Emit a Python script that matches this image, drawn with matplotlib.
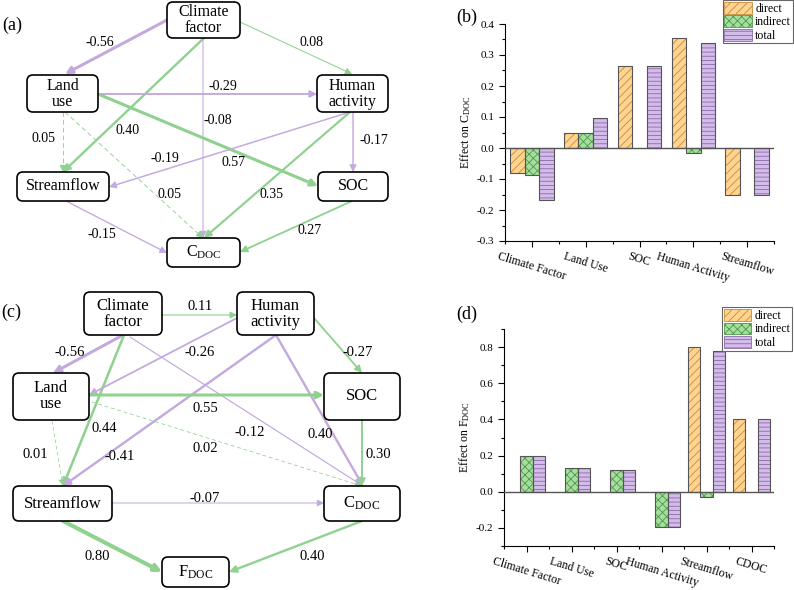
import matplotlib

matplotlib.use("Agg")
import matplotlib.pyplot as plt
import numpy as np
from matplotlib.patches import FancyBboxPatch, Patch
from matplotlib.ticker import FixedLocator, FormatStrFormatter, MultipleLocator

plt.rcParams["font.family"] = "serif"
plt.rcParams["font.serif"] = ["Liberation Serif", "DejaVu Serif"]
plt.rcParams["mathtext.fontset"] = "custom"
plt.rcParams["mathtext.rm"] = "Liberation Serif"
plt.rcParams["axes.unicode_minus"] = False
plt.rcParams["hatch.linewidth"] = 0.6

# ---------------- data ----------------
node_text = {
    "clim": "Climate\nfactor", "land": "Land\nuse", "human": "Human\nactivity",
    "flow": "Streamflow", "soc": "SOC",
    "cdoc": r"$\mathregular{C_{DOC}}$", "fdoc": r"$\mathregular{F_{DOC}}$",
}

# (a) path model for C_DOC
a_src = ["clim", "clim", "clim", "clim", "land", "land", "land", "land",
         "human", "human", "human", "flow", "soc"]
a_dst = ["land", "human", "flow", "cdoc", "human", "soc", "flow", "cdoc",
         "flow", "cdoc", "soc", "cdoc", "cdoc"]
a_coef = [-0.56, 0.08, 0.40, -0.08, -0.29, 0.57, 0.05, 0.05, -0.19, 0.35, -0.17, -0.15, 0.27]
a_green = [0, 1, 1, 0, 0, 1, 1, 1, 0, 1, 0, 0, 1]
a_sig = [1, 1, 1, 1, 1, 1, 0, 0, 1, 1, 1, 1, 1]

# (c) path model for F_DOC
c_src = ["clim", "clim", "clim", "clim", "human", "human", "human", "human",
         "land", "land", "land", "soc", "flow", "flow", "cdoc"]
c_dst = ["human", "land", "flow", "cdoc", "land", "flow", "cdoc", "soc",
         "soc", "flow", "cdoc", "cdoc", "cdoc", "fdoc", "fdoc"]
c_coef = [0.11, -0.56, 0.44, -0.12, -0.26, -0.41, 0.40, -0.27, 0.55, 0.01, 0.02, 0.30, -0.07, 0.80, 0.40]
c_green = [1, 0, 1, 0, 0, 0, 0, 1, 1, 1, 1, 1, 0, 1, 1]
c_sig = [1, 1, 1, 1, 1, 1, 1, 1, 1, 0, 0, 1, 1, 1, 1]

# (b) effects on C_DOC
b_cats = ["Climate Factor", "Land Use", "SOC", "Human Activity", "Streamflow"]
b_direct = [-0.080, 0.050, 0.266, 0.354, -0.153]
b_indirect = [-0.088, 0.047, 0.0, -0.016, 0.0]
b_total = [-0.167, 0.098, 0.266, 0.338, -0.153]

# (d) effects on F_DOC
d_cats = ["Climate Factor", "Land Use", "SOC", "Human Activity", "Streamflow", "CDOC"]
d_direct = [0.0, 0.0, 0.0, 0.0, 0.802, 0.405]
d_indirect = [0.196, 0.133, 0.118, -0.196, -0.030, 0.0]
d_total = [0.196, 0.133, 0.118, -0.196, 0.776, 0.405]

series_names = ["direct", "indirect", "total"]

# ---------------- layout (pixel space of the 794x590 figure) ----------------
a_box = {"clim": (167, 2, 240, 38), "land": (27, 75, 98, 112), "human": (317, 75, 388, 112),
         "flow": (17, 172, 109, 201), "soc": (318, 172, 388, 201), "cdoc": (167, 238, 240, 267)}
a_pts = [((167, 20), (65, 74)), ((240, 22), (352, 74)), ((204, 38), (63, 172)),
         ((203, 38), (203, 238)), ((98, 94), (317, 94)), ((98, 94), (318, 186)),
         ((63, 112), (63, 172)), ((65, 112), (203, 238)), ((350, 112), (109, 187)),
         ((350, 112), (204, 238)), ((353, 112), (353, 172)), ((66, 201), (167, 253)),
         ((352, 201), (240, 252))]
a_lab = [(100, 43), (311, 43), (128, 130), (218, 120), (223, 87), (234, 162), (43, 139),
         (170, 195), (165, 158), (272, 195), (374, 141), (102, 235), (310, 230)]

c_box = {"clim": (84, 292, 162, 335), "human": (237, 292, 314, 335), "land": (13, 373, 89, 420),
         "soc": (324, 373, 400, 420), "flow": (13, 486, 112, 521), "cdoc": (324, 486, 400, 521),
         "fdoc": (162, 557, 229, 587)}
c_pts = [((162, 315), (237, 315)), ((123, 335), (53, 373)), ((124, 335), (63, 486)),
         ((130, 337), (363, 486)), ((237, 318), (89, 395)), ((276, 335), (63, 486)),
         ((276, 335), (363, 486)), ((314, 318), (362, 373)), ((89, 395), (324, 395)),
         ((52, 421), (63, 486)), ((92, 402), (362, 486)), ((362, 420), (362, 486)),
         ((112, 503), (324, 503)), ((63, 521), (162, 572)), ((362, 521), (229, 572))]
c_lab = [(200, 307), (70, 352), (104, 429), (250, 432), (200, 352), (120, 457), (320, 435),
         (358, 352), (205, 408), (35, 454), (205, 448), (378, 455), (205, 498), (97, 557),
         (312, 557)]

GREEN = "#8fd18f"
PURPLE = "#c3a9dd"
fills = ["#ffd490", "#a6dea0", "#d3bce9"]
hatch_cols = ["#c88a3a", "#4e9a4a", "#8a6aa8"]
hatches = ["////", "xxxx", "----"]

fig = plt.figure(figsize=(7.94, 5.9), dpi=100)
ax = fig.add_axes([0, 0, 1, 1])
ax.set_xlim(0, 794)
ax.set_ylim(590, 0)
ax.axis("off")


def diagram(boxes, coef, green, sig, pts, labs, box_fs, lab_fs):
    for (p0, p1), c, g, s in zip(pts, coef, green, sig):
        col = GREEN if g else PURPLE
        lw = 0.5 + 3.0 * abs(c)
        p0, p1 = np.array(p0, float), np.array(p1, float)
        head_from = p0
        if not s:
            d = (p1 - p0) / np.hypot(*(p1 - p0))
            head_from = p1 - 7 * d
            ax.plot([p0[0], head_from[0]], [p0[1], head_from[1]], color=col, lw=lw,
                    ls=(0, (5, 3.5)), zorder=2)
        ax.annotate("", xy=p1, xytext=head_from, zorder=2,
                    arrowprops=dict(arrowstyle="-|>", color=col, lw=lw,
                                    shrinkA=0, shrinkB=0, mutation_scale=10))
    for (x, y), c in zip(labs, coef):
        ax.text(x, y, f"{c:.2f}", ha="center", va="center", fontsize=lab_fs, zorder=4)
    for key, (x0, y0, x1, y1) in boxes.items():
        ax.add_patch(FancyBboxPatch((x0, y0), x1 - x0, y1 - y0,
                                    boxstyle="round,pad=0,rounding_size=6",
                                    fc="white", ec="black", lw=1.2, zorder=3))
        ax.text((x0 + x1) / 2, (y0 + y1) / 2, node_text[key], ha="center", va="center",
                fontsize=box_fs, linespacing=1.0, zorder=4)


diagram(a_box, a_coef, a_green, a_sig, a_pts, a_lab, 11.5, 10)
diagram(c_box, c_coef, c_green, c_sig, c_pts, c_lab, 12, 10.5)

for lab, (x, y) in zip(["(a)", "(b)", "(c)", "(d)"], [(12, 25), (467, 17), (11, 312), (467, 314)]):
    ax.text(x, y, lab, ha="center", va="center", fontsize=13)


def bars(rect, cats, vals, ylim, ymaj, ymin, ylabel, leg_anchor):
    bx = fig.add_axes(rect)
    x = np.arange(1, len(cats) + 1)
    w = 0.27
    for i, v in enumerate(vals):
        v = np.array(v, dtype=float)
        v[v == 0] = np.nan
        xi = x + (i - 1) * w
        bx.bar(xi, v, w, color=fills[i], edgecolor=hatch_cols[i], hatch=hatches[i], lw=0, zorder=2)
        bx.bar(xi, v, w, fill=False, edgecolor="#555555", lw=0.8, zorder=3)
    bx.axhline(0, color="#555555", lw=1.0, zorder=4)
    bx.set_xlim(0.5, len(cats) + 0.5)
    bx.set_ylim(*ylim)
    bx.spines[["top", "right"]].set_visible(False)
    bx.yaxis.set_major_locator(MultipleLocator(ymaj))
    bx.yaxis.set_minor_locator(MultipleLocator(ymin))
    bx.yaxis.set_major_formatter(FormatStrFormatter("%.1f"))
    bx.set_xticks(x)
    bx.xaxis.set_minor_locator(FixedLocator(np.arange(0.5, len(cats) + 1, 1.0)))
    bx.set_xticklabels(cats, rotation=-17, ha="center", fontsize=8.5)
    bx.tick_params(axis="y", labelsize=8, length=4, width=0.8)
    bx.tick_params(axis="x", length=4, width=0.8, pad=3)
    bx.tick_params(which="minor", length=2.5, width=0.8)
    bx.set_ylabel(ylabel, fontsize=8.5, labelpad=3)
    handles = [Patch(facecolor=fills[i], edgecolor=hatch_cols[i], hatch=hatches[i], lw=0.6)
               for i in range(3)]
    leg = bx.legend(handles, series_names, loc="upper right", bbox_to_anchor=leg_anchor,
                    borderaxespad=0, fontsize=8.5, fancybox=False, framealpha=1,
                    edgecolor="#666666", handlelength=2.3, handleheight=1.15,
                    labelspacing=0.05, borderpad=0.15, handletextpad=0.3)
    leg.get_frame().set_linewidth(0.8)
    return bx


bars([505 / 794, 1 - 241 / 590, 269 / 794, 217 / 590], b_cats, [b_direct, b_indirect, b_total],
     (-0.3, 0.4), 0.1, 0.05, r"Effect on $\mathregular{C_{DOC}}$", (1.07, 1.11))
bars([504 / 794, 1 - 546 / 590, 270 / 794, 217 / 590], d_cats, [d_direct, d_indirect, d_total],
     (-0.3, 0.9), 0.2, 0.1, r"Effect on $\mathregular{F_{DOC}}$", (1.067, 1.10))

fig.savefig("out.png", dpi=100)
